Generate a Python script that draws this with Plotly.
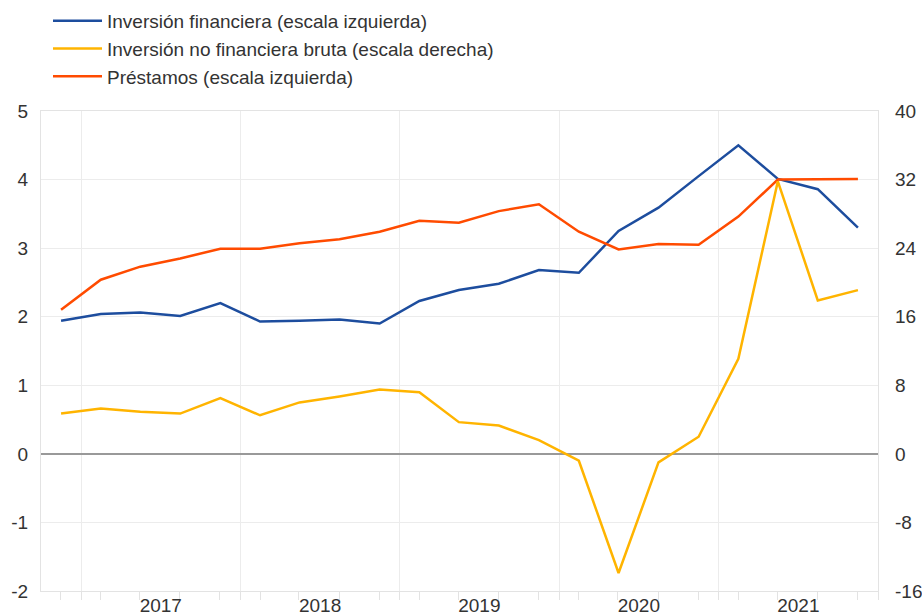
import pandas as pd
import plotly.graph_objects as go

quarters = ["2016Q4",
            "2017Q1", "2017Q2", "2017Q3", "2017Q4",
            "2018Q1", "2018Q2", "2018Q3", "2018Q4",
            "2019Q1", "2019Q2", "2019Q3", "2019Q4",
            "2020Q1", "2020Q2", "2020Q3", "2020Q4",
            "2021Q1", "2021Q2", "2021Q3", "2021Q4"]

inversion_financiera = [1.94, 2.04, 2.06, 2.01, 2.20, 1.93, 1.94, 1.96, 1.90,
                        2.23, 2.39, 2.48, 2.68, 2.64, 3.25, 3.59, 4.05, 4.50,
                        4.01, 3.86, 3.30]
inversion_no_financiera = [4.7, 5.3, 4.9, 4.7, 6.5, 4.5, 6.0, 6.7, 7.5,
                           7.2, 3.7, 3.3, 1.6, -0.8, -13.9, -1.0, 2.0, 11.1,
                           31.8, 17.9, 19.1]
prestamos = [2.10, 2.54, 2.73, 2.85, 2.99, 2.99, 3.07, 3.13, 3.24,
             3.40, 3.37, 3.54, 3.64, 3.24, 2.98, 3.06, 3.05, 3.46,
             4.00, 4.00, 4.01]

names = ["Inversión financiera (escala izquierda)",
         "Inversión no financiera bruta (escala derecha)",
         "Préstamos (escala izquierda)"]
colors = ["#1d4d9e", "#ffb400", "#ff4b00"]

left_ticks = [-2, -1, 0, 1, 2, 3, 4, 5]
left_labels = ["-2", "-1", "0", "1", "2", "3", "4", "5"]
right_ticks = [-16, -8, 0, 8, 16, 24, 32, 40]
right_labels = ["-16", "-8", "0", "8", "16", "24", "32", "40"]


def mid_quarter(q):
    p = pd.Period(q, freq="Q")
    return p.start_time + (p.end_time - p.start_time) / 2


dates = [mid_quarter(q) for q in quarters]

fig = go.Figure()
fig.add_trace(go.Scatter(x=dates, y=inversion_financiera, name=names[0], mode="lines",
                         line=dict(color=colors[0], width=2.5), yaxis="y"))
fig.add_trace(go.Scatter(x=dates, y=inversion_no_financiera, name=names[1], mode="lines",
                         line=dict(color=colors[1], width=2.5), yaxis="y2"))
fig.add_trace(go.Scatter(x=dates, y=prestamos, name=names[2], mode="lines",
                         line=dict(color=colors[2], width=2.5), yaxis="y"))

font = dict(family="Liberation Sans, Arial, sans-serif", size=19, color="#333333")
grid = "#ececec"

fig.update_layout(
    width=922, height=615,
    margin=dict(l=41, r=44, t=111, b=24, autoexpand=False),
    paper_bgcolor="white", plot_bgcolor="white",
    font=font,
    showlegend=True,
    legend=dict(x=48 / 922, y=1 - 2 / 615, xanchor="left", yanchor="top",
                xref="container", yref="container",
                bgcolor="rgba(0,0,0,0)", font=font, tracegroupgap=0, itemwidth=49),
    xaxis=dict(type="date", range=["2016-10-01", "2022-01-01"],
               dtick="M12", tick0="2017-01-01", ticklabelmode="period",
               tickformat="%Y", showgrid=True, gridcolor=grid, gridwidth=1,
               ticks="outside", ticklen=8, tickcolor="#e3e3e3",
               ticklabelstandoff=-11,
               showline=True, mirror=True, linecolor="#e3e3e3", linewidth=1,
               minor=dict(dtick="M3", tick0="2016-11-15", ticks="outside", ticklen=8,
                          tickcolor="#e3e3e3", showgrid=False),
               automargin=False, fixedrange=True),
    yaxis=dict(range=[-2, 5], tickvals=left_ticks, ticktext=left_labels, ticks="",
               showgrid=True, gridcolor=grid,
               zeroline=True, zerolinecolor="#999999", zerolinewidth=2,
               showline=True, mirror=True, linecolor="#e3e3e3",
               ticklabelstandoff=8, automargin=False, fixedrange=True),
    yaxis2=dict(range=[-16, 40], tickvals=right_ticks, ticktext=right_labels,
                overlaying="y", side="right",
                showgrid=False, zeroline=False, ticks="", ticklabelstandoff=16,
                automargin=False, fixedrange=True),
)

fig.write_html("out.html", config={"displayModeBar": False},
               post_script="document.body.style.margin='0';"
               "document.body.style.overflow='hidden';window.dispatchEvent(new Event('resize'));")
